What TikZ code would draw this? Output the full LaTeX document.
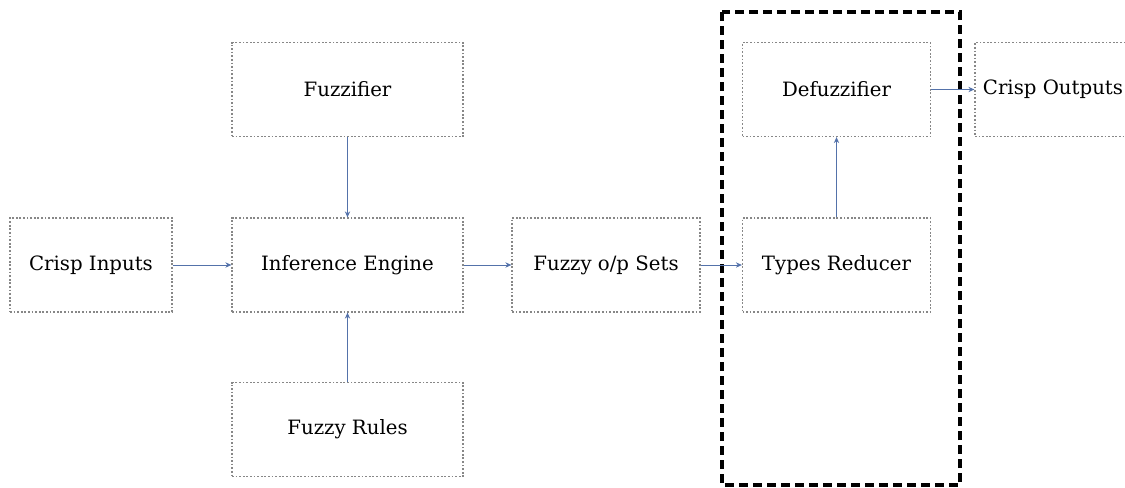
\documentclass[tikz,border=0pt]{standalone}
\usepackage{fontspec}
\setmainfont{DejaVu Serif}
\usepackage{tikz}
\usetikzlibrary{arrows.meta}
\definecolor{arrowblue}{RGB}{84,114,170}
\definecolor{boxgray}{RGB}{135,135,135}
\tikzset{
  blk/.style={draw=boxgray, dash pattern=on 1.3pt off 1.4pt, line width=0.9pt, minimum height=70.5pt,
    inner sep=0pt, font=\fontsize{14.8}{17}\selectfont},
  flow/.style={draw=arrowblue, line width=0.7pt, -{Stealth[length=4.5pt,width=4pt]}}
}

\begin{document}
\begin{tikzpicture}[x=0.75pt, y=-0.75pt]

    \useasboundingbox (0, 0) rectangle (1125, 487);

    \node[blk, minimum width=121.5pt] (a) at (91, 265) {Crisp Inputs};
    \node[blk, minimum width=173.25pt] (b) at (347.5, 89.5) {Fuzzifier};
    \node[blk, minimum width=173.25pt] (c) at (347.5, 265) {Inference Engine};
    \node[blk, minimum width=173.25pt] (d) at (347.5, 429.5) {Fuzzy Rules};
    \node[blk, minimum width=141pt] (e) at (606, 265) {Fuzzy o/p Sets};
    \node[blk, minimum width=141pt] (f) at (836.5, 265) {Types Reducer};
    \node[blk, minimum width=141pt] (g) at (836.5, 89.5) {Defuzzifier};
    \node[blk, minimum width=117pt] (h) at (1053, 89.5) {Crisp Outputs};

    \draw[black, line width=2.5pt, dash pattern=on 7pt off 3.5pt] (722, 12) rectangle (960, 485);

    \draw [flow] (a) to (c);
    \draw [flow] (b) to (c);
    \draw [flow] (d) to (c);
    \draw [flow] (c) to (e);
    \draw [flow] (e) to (f);
    \draw [flow] (f) to (g);
    \draw [flow] (g) to (h);

  \end{tikzpicture}
\end{document}
